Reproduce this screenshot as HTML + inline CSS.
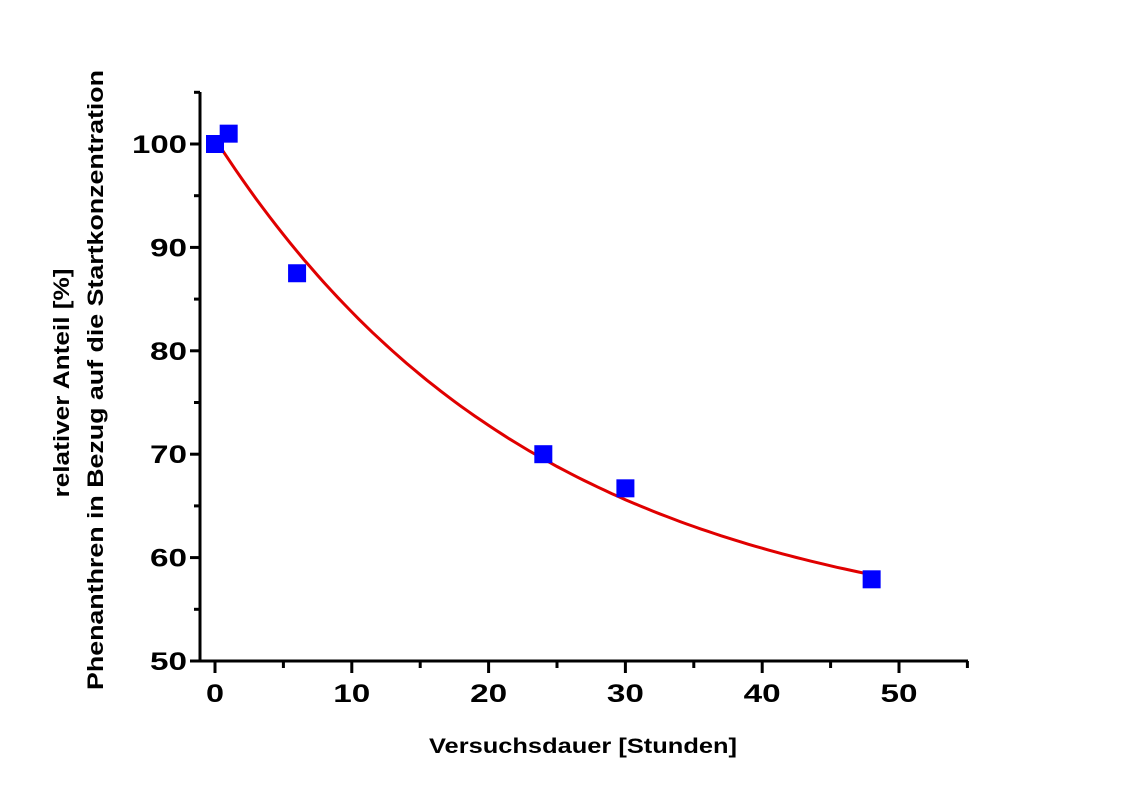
<!DOCTYPE html>
<html><head><meta charset="utf-8"><style>body{margin:0;background:#fff}</style></head>
<body>
<svg id="s" width="1123" height="794" xmlns="http://www.w3.org/2000/svg" font-family="Liberation Sans, Arial, sans-serif" font-weight="bold">
<g stroke="#000" stroke-width="3" fill="none">
<line x1="200" y1="92" x2="200" y2="662"/>
<line x1="199" y1="661" x2="968" y2="661"/>
</g>
<g id="ticks" stroke="#000" stroke-width="3"></g>
<g font-size="25" text-anchor="end" id="yl"></g>
<g font-size="25" text-anchor="middle" id="xl"></g>
<path id="curve" fill="none" stroke="#e00000" stroke-width="3"/>
<g id="pts" fill="#0000ff"></g>
<text x="583" y="753" font-size="21" text-anchor="middle" textLength="308" lengthAdjust="spacingAndGlyphs">Versuchsdauer [Stunden]</text>
<text transform="translate(69,383) rotate(-90)" font-size="22" text-anchor="middle" textLength="229" lengthAdjust="spacingAndGlyphs">relativer Anteil [%]</text>
<text transform="translate(103,380) rotate(-90)" font-size="22" text-anchor="middle" textLength="620" lengthAdjust="spacingAndGlyphs">Phenanthren in Bezug auf die Startkonzentration</text>
</svg>
<script>
const X=t=>215+t*13.68, Y=v=>144+(100-v)*10.34;
const ns="http://www.w3.org/2000/svg";
function el(p,tag,a,txt){const e=document.createElementNS(ns,tag);for(const k in a)e.setAttribute(k,a[k]);if(txt!==undefined)e.textContent=txt;document.getElementById(p).appendChild(e);}
for(let v=50;v<=105;v+=5){const y=Y(v),maj=v%10==0;el("ticks","line",{x1:200,x2:maj?190:194,y1:y,y2:y});if(maj)el("yl","text",{x:187,y:y+9,textLength:v>=100?55:37,lengthAdjust:"spacingAndGlyphs"},v);}
for(let t=0;t<=55;t+=5){const x=X(t),maj=t%10==0;el("ticks","line",{x1:x,x2:x,y1:661,y2:maj?673:668});if(maj)el("xl","text",{x:x,y:702,textLength:t?37:18,lengthAdjust:"spacingAndGlyphs"},t);}
let d="";for(let t=0;t<=48;t+=0.5){const v=52+48.5*Math.exp(-t/23.6);d+=(t?"L":"M")+X(t).toFixed(1)+" "+Y(v).toFixed(1);}
document.getElementById("curve").setAttribute("d",d);
[[0,100],[1,101],[6,87.5],[24,70],[30,66.7],[48,57.9]].forEach(p=>el("pts","rect",{x:X(p[0])-9,y:Y(p[1])-9,width:18,height:18}));
</script>
</body></html>
